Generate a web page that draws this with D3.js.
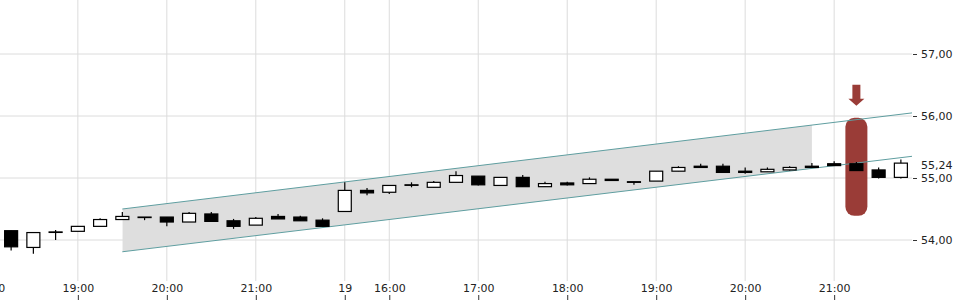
<!DOCTYPE html>
<html>
<head>
<meta charset="utf-8">
<script src="https://cdn.jsdelivr.net/npm/d3@7"></script>
<style>
    body { margin: 0; background: #fff; }
    .axis text { font-family: "DejaVu Sans", sans-serif; font-size: 11px; fill: #222; }
    .axis line { stroke: #333; }
    .axis .domain { display: none; }
    .grid line { stroke: #dcdcdc; stroke-width: 1; }
</style>
</head>
<body>
<div id="chart"></div>
<script>
// 15 minute candles, two sessions (index based x axis, no overnight gap)
const opens  = [54.15, 53.88, 54.13, 54.14, 54.22, 54.33, 54.37, 54.37, 54.29, 54.42, 54.31, 54.24, 54.38, 54.37, 54.32,
                54.46, 54.80, 54.77, 54.89, 54.85, 54.93, 55.03, 54.88, 55.01, 54.86, 54.92, 54.91, 54.98, 54.94, 54.95,
                55.11, 55.19, 55.19, 55.11, 55.10, 55.13, 55.19, 55.23, 55.23, 55.13, 55.01];
const highs  = [54.15, 54.12, 54.16, 54.22, 54.35, 54.45, 54.37, 54.37, 54.45, 54.45, 54.34, 54.37, 54.42, 54.39, 54.35,
                54.93, 54.84, 54.88, 54.93, 54.95, 55.11, 55.03, 55.01, 55.05, 54.94, 54.94, 55.01, 54.98, 54.94, 55.11,
                55.19, 55.23, 55.23, 55.17, 55.17, 55.19, 55.24, 55.27, 55.26, 55.17, 55.30];
const lows   = [53.83, 53.78, 54.00, 54.14, 54.22, 54.33, 54.32, 54.22, 54.29, 54.30, 54.18, 54.24, 54.34, 54.31, 54.22,
                54.46, 54.72, 54.74, 54.85, 54.85, 54.93, 54.88, 54.88, 54.86, 54.86, 54.88, 54.91, 54.96, 54.89, 54.95,
                55.11, 55.17, 55.09, 55.07, 55.10, 55.12, 55.17, 55.20, 55.12, 54.99, 54.99];
const closes = [53.89, 54.12, 54.13, 54.22, 54.33, 54.38, 54.37, 54.29, 54.43, 54.30, 54.22, 54.35, 54.34, 54.31, 54.22,
                54.80, 54.76, 54.88, 54.89, 54.93, 55.04, 54.89, 55.01, 54.86, 54.91, 54.89, 54.98, 54.96, 54.93, 55.11,
                55.17, 55.17, 55.09, 55.09, 55.14, 55.17, 55.17, 55.20, 55.12, 55.01, 55.24];

// x axis labels by candle index
const tickIndex = [-1, 3, 7, 11, 15, 17, 21, 25, 29, 33, 37];
const tickLabels = ["18:00", "19:00", "20:00", "21:00", "19", "16:00", "17:00", "18:00", "19:00", "20:00", "21:00"];

const priceTicks = [54, 55, 56, 57];

// trend channel (index, price)
const channelUpper = [[5, 54.50], [40.5, 56.05]];
const channelLower = [[5, 53.81], [40.5, 55.35]];
const channelFillEnd = 36;

// sell signal
const signalIndex = 38;
const signalRange = [54.39, 55.97];

const width = 960, height = 300;
const plotRight = 912, plotBottom = 281;

const svg = d3.select("#chart").append("svg")
    .attr("width", width)
    .attr("height", height);

const x = d3.scaleLinear().domain([-0.5, 40.5]).range([0, plotRight]);
const y = d3.scaleLinear().domain([54, 57]).range([240, 54]);

const candles = opens.map((o, i) => ({i: i, o: o, h: highs[i], l: lows[i], c: closes[i]}));

// grid
const grid = svg.append("g").attr("class", "grid");
grid.selectAll(".h").data(priceTicks).enter().append("line")
    .attr("x1", 0).attr("x2", plotRight)
    .attr("y1", d => y(d)).attr("y2", d => y(d));
grid.selectAll(".v").data(tickIndex).enter().append("line")
    .attr("x1", d => x(d)).attr("x2", d => x(d))
    .attr("y1", 0).attr("y2", plotBottom);

// channel
svg.append("clipPath").attr("id", "fillClip")
    .append("rect")
    .attr("x", x(channelUpper[0][0])).attr("y", 0)
    .attr("width", x(channelFillEnd) - x(channelUpper[0][0])).attr("height", plotBottom);

const channelData = channelUpper.map((d, k) => ({i: d[0], hi: d[1], lo: channelLower[k][1]}));
const area = d3.area().x(d => x(d.i)).y0(d => y(d.lo)).y1(d => y(d.hi));
svg.append("path")
    .datum(channelData)
    .attr("clip-path", "url(#fillClip)")
    .attr("fill", "#dedede")
    .attr("d", area);

// signal marker
const sx = x(signalIndex);
svg.append("rect")
    .attr("x", sx - 11).attr("width", 22)
    .attr("y", y(signalRange[1])).attr("height", y(signalRange[0]) - y(signalRange[1]))
    .attr("rx", 9).attr("ry", 9)
    .attr("fill", "#9a3c37");
const tipY = y(signalRange[1]) - 12;
svg.append("path")
    .attr("fill", "#9a3c37")
    .attr("d", `M${sx - 4},${tipY - 21} L${sx + 4},${tipY - 21} L${sx + 4},${tipY - 7} L${sx + 8},${tipY - 7}
                L${sx},${tipY} L${sx - 8},${tipY - 7} L${sx - 4},${tipY - 7} Z`);

const line = d3.line().x(d => x(d[0])).y(d => y(d[1]));
[channelUpper, channelLower].forEach(d => {
    svg.append("path")
        .attr("fill", "none")
        .attr("stroke", "#5f9ea0")
        .attr("stroke-width", 1)
        .attr("d", line(d));
});

// candles
const cg = svg.append("g").selectAll("g").data(candles).enter().append("g");
cg.append("line")
    .attr("x1", d => x(d.i)).attr("x2", d => x(d.i))
    .attr("y1", d => y(d.h)).attr("y2", d => y(d.l))
    .attr("stroke", "#000").attr("stroke-width", 1.2);
cg.append("rect")
    .attr("x", d => x(d.i) - 6.5).attr("width", 13)
    .attr("y", d => y(Math.max(d.o, d.c)))
    .attr("height", d => Math.max(0.5, Math.abs(y(d.o) - y(d.c))))
    .attr("fill", d => d.c > d.o ? "#fff" : "#000")
    .attr("stroke", "#000").attr("stroke-width", 1.2);

// axes
const xAxis = d3.axisTop(x)
    .tickValues(tickIndex)
    .tickFormat((d, k) => tickLabels[k])
    .tickSize(5).tickPadding(3);
svg.append("g").attr("class", "axis x-axis")
    .attr("transform", "translate(0,300)")
    .call(xAxis);

const fmt = v => d3.format(".2f")(v).replace(".", ",");
const yAxis = d3.axisRight(y)
    .tickValues(priceTicks)
    .tickFormat(fmt)
    .tickSize(4).tickPadding(4);
svg.append("g").attr("class", "axis y-axis")
    .attr("transform", "translate(913,0)")
    .call(yAxis);

// last price label
svg.append("text")
    .attr("class", "axis")
    .attr("x", 921).attr("y", y(closes[closes.length - 1]) + 2)
    .attr("dy", "0.32em")
    .style("font-family", "DejaVu Sans, sans-serif").style("font-size", "11px").style("fill", "#222")
    .text(fmt(closes[closes.length - 1]));
</script>
</body>
</html>
